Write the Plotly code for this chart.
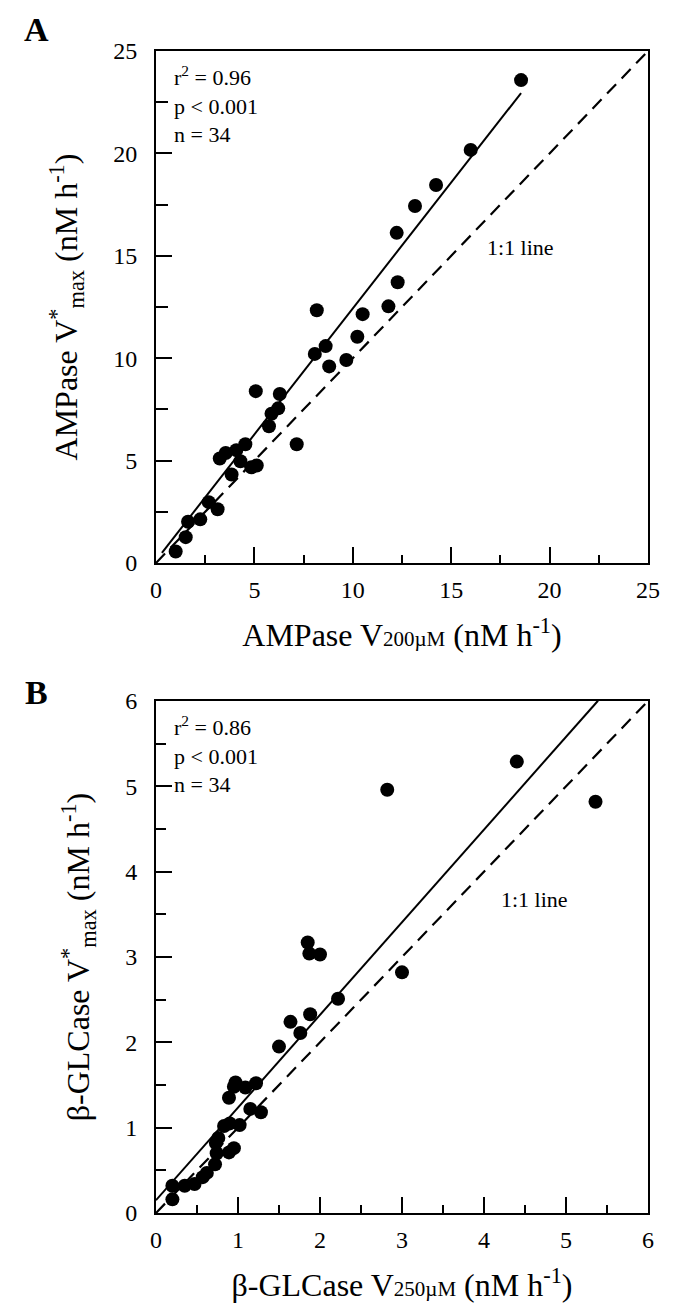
import plotly.graph_objects as go

# ---------------- data ----------------
# Panel A: AMPase
amp_v200 = [1.00, 1.51, 1.63, 2.25, 2.68, 3.13, 3.24, 3.54, 3.84, 4.08, 4.29, 4.54,
            4.84, 5.12, 5.07, 5.74, 5.87, 6.21, 6.29, 7.15, 8.07, 8.17, 8.62, 8.80,
            9.67, 10.23, 10.50, 11.81, 12.28, 12.23, 13.16, 14.23, 15.99, 18.55]
amp_vmax = [0.56, 1.26, 2.01, 2.13, 2.97, 2.62, 5.10, 5.37, 4.32, 5.51, 4.97, 5.80,
            4.67, 4.76, 8.39, 6.68, 7.29, 7.55, 8.25, 5.80, 10.21, 12.34, 10.59, 9.60,
            9.91, 11.05, 12.15, 12.53, 13.71, 16.12, 17.43, 18.46, 20.17, 23.58]
amp_fit = {"intercept": 0.13, "slope": 1.23, "x_start": 0.3, "x_end": 18.55}
amp_stats = ["r<sup>2</sup> = 0.96", "p &lt; 0.001", "n = 34"]

# Panel B: beta-GLCase
glc_v250 = [0.20, 0.20, 0.35, 0.47, 0.57, 0.62, 0.72, 0.74, 0.73, 0.76, 0.89, 0.95,
            0.83, 0.90, 1.02, 0.89, 0.97, 0.95, 1.09, 1.22, 1.15, 1.28, 1.50, 1.64,
            1.76, 1.88, 2.22, 1.85, 1.87, 2.00, 2.82, 3.00, 4.40, 5.36]
glc_vmax = [0.16, 0.32, 0.32, 0.34, 0.42, 0.47, 0.57, 0.70, 0.82, 0.88, 0.71, 0.76,
            1.02, 1.05, 1.03, 1.35, 1.53, 1.48, 1.47, 1.52, 1.22, 1.18, 1.95, 2.24,
            2.11, 2.33, 2.51, 3.17, 3.04, 3.03, 4.96, 2.82, 5.29, 4.82]
glc_fit = {"intercept": 0.15, "slope": 1.086, "x_start": 0.0, "x_end": 5.39}
glc_stats = ["r<sup>2</sup> = 0.86", "p &lt; 0.001", "n = 34"]

ranges = {"A": 25, "B": 6}

FONT = "Liberation Serif, Times New Roman, serif"
BLACK = "#000000"

fig = go.Figure()

panels = [
    ("A", "x", "y", amp_v200, amp_vmax, amp_fit, amp_stats, (18.5, 15.4)),
    ("B", "x2", "y2", glc_v250, glc_vmax, glc_fit, glc_stats, (4.62, 3.67)),
]

for name, xa, ya, xs, ys, fit, stats, lab in panels:
    r = ranges[name]
    # 1:1 dashed line
    fig.add_trace(go.Scatter(x=[0, r], y=[0, r], mode="lines", xaxis=xa, yaxis=ya,
                             line=dict(color=BLACK, width=2.2, dash="13px,8px"),
                             showlegend=False, hoverinfo="skip"))
    # regression line
    x0, x1 = fit["x_start"], fit["x_end"]
    fig.add_trace(go.Scatter(x=[x0, x1],
                             y=[fit["intercept"] + fit["slope"] * x0,
                                fit["intercept"] + fit["slope"] * x1],
                             mode="lines", xaxis=xa, yaxis=ya,
                             line=dict(color=BLACK, width=2),
                             showlegend=False, hoverinfo="skip"))
    # data points
    fig.add_trace(go.Scatter(x=xs, y=ys, mode="markers", xaxis=xa, yaxis=ya,
                             marker=dict(color=BLACK, size=14, line=dict(width=0)),
                             showlegend=False))
    # stats text
    fig.add_annotation(xref=xa + " domain", yref=ya + " domain", x=0.032, y=0.983,
                       xanchor="left", yanchor="top", align="left", showarrow=False,
                       text="<br>".join(stats),
                       font=dict(family=FONT, size=22, color=BLACK))
    # 1:1 label
    fig.add_annotation(xref=xa, yref=ya, x=lab[0], y=lab[1], showarrow=False,
                       text="1:1 line", font=dict(family=FONT, size=22, color=BLACK))

axis_common = dict(
    showline=True, linecolor=BLACK, linewidth=2, mirror=True,
    ticks="inside", ticklen=16, tickwidth=2, tickcolor=BLACK,
    showgrid=False, zeroline=False,
    tickfont=dict(family=FONT, size=24, color=BLACK),
    title_font=dict(family=FONT, size=32, color=BLACK),
)

small = "<span style='font-size:21px'>{}</span>"

fig.update_layout(
    width=675, height=1306,
    margin=dict(l=148, r=35, t=43, b=101),
    paper_bgcolor="white", plot_bgcolor="white",
    xaxis=dict(axis_common, domain=[0, 1], range=[0, 25], dtick=5, anchor="y",
               ticklabelstandoff=4,
               minor=dict(dtick=2.5, ticks="inside", ticklen=8, tickwidth=2, tickcolor=BLACK),
               title=dict(text="AMPase V" + small.format("200µM") + " (nM h<sup>-1</sup>)",
                          standoff=22)),
    yaxis=dict(axis_common, domain=[0.5594, 1], range=[0, 25], dtick=5, anchor="x",
               ticklabelstandoff=12,
               minor=dict(dtick=2.5, ticks="inside", ticklen=12, tickwidth=2, tickcolor=BLACK),
               title=dict(text="AMPase V<sup>*</sup><sub>max</sub> (nM h<sup>-1</sup>)",
                          standoff=26)),
    xaxis2=dict(axis_common, domain=[0, 1], range=[0, 6], dtick=1, anchor="y2",
                ticklabelstandoff=4,
                minor=dict(dtick=0.5, ticks="inside", ticklen=8, tickwidth=2, tickcolor=BLACK),
                title=dict(text="β-GLCase V" + small.format("250µM") + " (nM h<sup>-1</sup>)",
                           standoff=22)),
    yaxis2=dict(axis_common, domain=[0, 0.4406], range=[0, 6], dtick=1, anchor="x2",
                ticklabelstandoff=12,
                minor=dict(dtick=0.5, ticks="inside", ticklen=10, tickwidth=2, tickcolor=BLACK),
                title=dict(text="β-GLCase V<sup>*</sup><sub>max</sub> (nM h<sup>-1</sup>)",
                           standoff=26)),
)

# panel letters
for letter, py in (("A", 22), ("B", 684)):
    fig.add_annotation(xref="paper", yref="paper",
                       x=(28 - 148) / 492, y=(1205 - py) / 1162,
                       xanchor="center", yanchor="middle", showarrow=False,
                       text="<b>%s</b>" % letter,
                       font=dict(family=FONT, size=34, color=BLACK))

fig.write_html("out.html")
